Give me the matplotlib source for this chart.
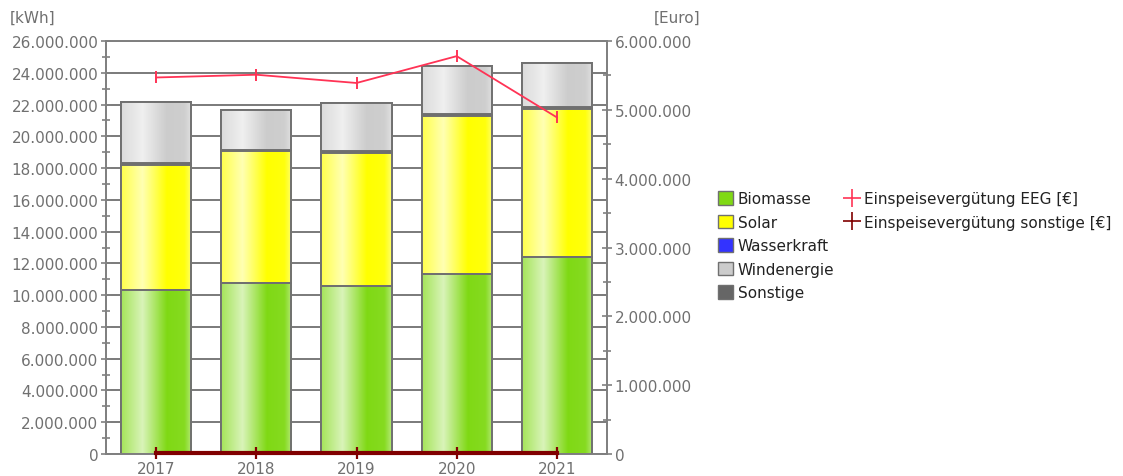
import matplotlib.pyplot as plt
import numpy as np
from matplotlib.patches import Patch
from matplotlib.lines import Line2D
from matplotlib.ticker import FuncFormatter, MultipleLocator

jahre = ["2017", "2018", "2019", "2020", "2021"]
biomasse = [10330000, 10770000, 10580000, 11330000, 12400000]
solar = [7880000, 8320000, 8380000, 9950000, 9330000]
wasserkraft = [0, 0, 0, 0, 0]
sonstige = [120000, 60000, 120000, 120000, 110000]
windenergie = [3820000, 2530000, 3000000, 3050000, 2780000]
eeg_euro = [5470000, 5510000, 5390000, 5780000, 4890000]
sonstige_euro = [10000, 10000, 10000, 10000, 10000]

farben = {
    "Biomasse": (0.50, 0.85, 0.08),
    "Solar": (1.0, 1.0, 0.0),
    "Wasserkraft": (0.2, 0.2, 1.0),
    "Windenergie": (0.80, 0.80, 0.80),
    "Sonstige": (0.40, 0.40, 0.40),
}
grau_text = "#707070"
plt.rcParams["font.family"] = "DejaVu Sans"
plt.rcParams["font.size"] = 11


def verlauf(basis, n=64):
    t = np.linspace(0, 1, n)
    w = np.interp(t, [0, 0.3, 0.65, 0.9, 1.0], [0.3, 0.7, 0.0, 0.05, 0.4])
    b = np.array(basis)
    rgb = b[None, :] * (1 - w[:, None]) + w[:, None]
    return rgb[None, :, :]


fig = plt.figure(figsize=(11.23, 4.77), dpi=100)
ax = fig.add_axes([106 / 1123, 1 - 455 / 477, 501 / 1123, 413 / 477])
ax2 = ax.twinx()

x = np.arange(len(jahre))
breite = 0.7
unten = np.zeros(len(jahre))
schichten = [
    ("Biomasse", biomasse),
    ("Solar", solar),
    ("Wasserkraft", wasserkraft),
    ("Sonstige", sonstige),
    ("Windenergie", windenergie),
]
for name, werte in schichten:
    werte = np.array(werte, dtype=float)
    balken = ax.bar(x, werte, breite, bottom=unten, color=farben[name],
                    edgecolor="#707070", linewidth=1.4, zorder=3)
    if name in ("Biomasse", "Solar", "Windenergie"):
        for b in balken:
            if b.get_height() <= 0:
                continue
            x0, y0 = b.get_x(), b.get_y()
            bild = ax.imshow(verlauf(farben[name]), extent=(x0, x0 + b.get_width(), y0, y0 + b.get_height()),
                             aspect="auto", zorder=3.5, interpolation="bilinear")
            bild.set_clip_path(b)
            rand = plt.Rectangle((x0, y0), b.get_width(), b.get_height(), fill=False,
                                 edgecolor="#707070", linewidth=1.4, zorder=4)
            ax.add_patch(rand)
    unten += werte

ax.set_xlim(-0.5, len(jahre) - 0.5)
ax.set_ylim(0, 26000000)
ax.set_xticks(x)
ax.set_xticklabels(jahre)
ax.yaxis.set_major_locator(MultipleLocator(2000000))
ax.yaxis.set_minor_locator(MultipleLocator(1000000))
punkt = FuncFormatter(lambda v, p: f"{int(round(v)):,}".replace(",", "."))
ax.yaxis.set_major_formatter(punkt)
ax.grid(axis="y", color="#707070", linewidth=1.3, zorder=0)
ax.set_axisbelow(True)

ax2.set_ylim(0, 6000000)
ax2.yaxis.set_major_locator(MultipleLocator(1000000))
ax2.yaxis.set_minor_locator(MultipleLocator(500000))
ax2.yaxis.set_major_formatter(punkt)

ax2.plot(x, eeg_euro, color="#ff3355", linewidth=1.3, marker="|", markersize=9,
         markeredgewidth=1.4, zorder=6)
ax2.plot(x, sonstige_euro, color="#800000", linewidth=3, marker="|", markersize=9,
         markeredgewidth=1.6, zorder=6, clip_on=False)

for a in (ax, ax2):
    for s in a.spines.values():
        s.set_color("#808080")
        s.set_linewidth(1.3)
    a.tick_params(which="both", direction="inout", color="#808080", labelcolor=grau_text, width=1.2)
    a.tick_params(which="major", length=7, pad=2)
    a.tick_params(which="minor", length=6)
ax.tick_params(axis="x", length=0, pad=5)

fig.text(10 / 1123, 1 - 18 / 477, "[kWh]", color=grau_text, va="center", ha="left")
fig.text(700 / 1123, 1 - 18 / 477, "[Euro]", color=grau_text, va="center", ha="right")

patches = [Patch(facecolor=farben[n], edgecolor="#707070", label=n)
           for n in ["Biomasse", "Solar", "Wasserkraft", "Windenergie", "Sonstige"]]
leg1 = fig.legend(handles=patches, loc="upper left", bbox_to_anchor=(712 / 1123, 1 - 186 / 477),
                  frameon=False, handlelength=1.0, handleheight=1.0, handletextpad=0.3,
                  labelspacing=0.55, borderaxespad=0, labelcolor="#222222")
linien = [
    Line2D([], [], color="#ff3355", marker="+", linestyle="none", markersize=13, markeredgewidth=1.2,
           label="Einspeisevergütung EEG [€]"),
    Line2D([], [], color="#800000", marker="+", linestyle="none", markersize=13, markeredgewidth=1.2,
           label="Einspeisevergütung sonstige [€]"),
]
leg2 = fig.legend(handles=linien, loc="upper left", bbox_to_anchor=(838 / 1123, 1 - 186 / 477),
                  frameon=False, handlelength=1.0, handletextpad=0.3, labelspacing=0.55,
                  borderaxespad=0, labelcolor="#222222")

fig.savefig("out.png", dpi=100)
